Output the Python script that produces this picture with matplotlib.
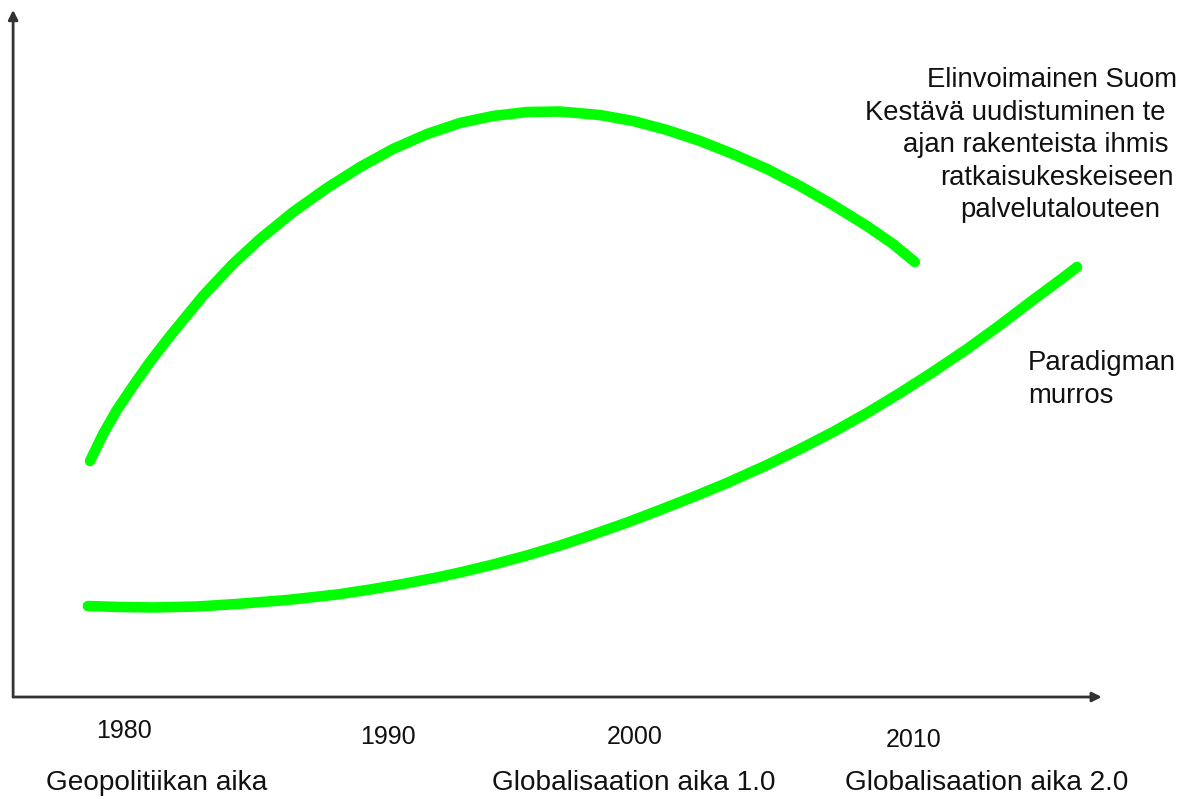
import matplotlib
matplotlib.use("Agg")
import matplotlib.pyplot as plt

plt.rcParams['font.family'] = ['Liberation Sans', 'DejaVu Sans']

# ---- data (years on x, arbitrary "level" on y) ----
upper_years = [1978.39, 1978.89, 1979.42, 1980.04, 1980.69, 1981.46, 1982.72,
               1983.87, 1984.91, 1986.18, 1987.48, 1988.75, 1990.01, 1991.32,
               1992.58, 1993.85, 1995.15, 1996.42, 1997.95, 1999.22, 2000.52,
               2001.79, 2003.05, 2004.36, 2005.62, 2006.89, 2008.19, 2009.19,
               2010.03]
upper_vals = [34.45, 38.39, 41.90, 45.40, 48.91, 52.70, 58.54,
              63.21, 66.86, 70.80, 74.31, 77.37, 80.00, 82.19,
              83.80, 84.82, 85.40, 85.47, 84.96, 84.09, 82.77,
              81.17, 79.27, 77.08, 74.60, 71.82, 68.76, 66.13,
              63.50]

lower_years = [1978.31, 1979.54, 1980.81, 1982.49, 1984.03, 1985.95, 1987.86,
               1989.13, 1990.40, 1991.70, 1992.58, 1993.85, 1995.15, 1996.42,
               1997.68, 1998.99, 2000.25, 2001.52, 2002.82, 2004.36, 2005.62,
               2006.89, 2008.19, 2009.46, 2010.72, 2012.03, 2013.30, 2014.56,
               2015.60, 2016.25]
lower_vals = [13.28, 13.14, 13.07, 13.21, 13.58, 14.16, 14.96,
              15.69, 16.50, 17.45, 18.18, 19.34, 20.66, 22.12,
              23.72, 25.47, 27.30, 29.20, 31.24, 33.87, 36.20,
              38.69, 41.46, 44.38, 47.45, 50.80, 54.31, 57.96,
              60.88, 62.77]

year_labels = ["1980", "1990", "2000", "2010"]
era_labels = ["Geopolitiikan aika", "Globalisaation aika 1.0", "Globalisaation aika 2.0"]
# visible (edge-clipped in the original) annotation lines
upper_note_lines = ["Elinvoimainen Suom", "Kestävä uudistuminen te",
                    "ajan rakenteista ihmis", "ratkaisukeskeiseen",
                    "palvelutalouteen"]
lower_note_lines = ["Paradigman", "murros"]

# ---- layout ----
year_label_x = [1979.7, 1989.8, 1999.3, 2010.0]
year_label_y = [-5.99, -6.9, -6.9, -7.3]
era_label_x = [1976.7, 1993.8, 2007.35]
era_label_y = -13.58
upper_note_x = [2010.49, 2008.12, 2009.57, 2010.99, 2011.76]
upper_note_y = [89.05, 84.23, 79.56, 74.74, 70.07]
lower_note_x = [2014.37, 2014.37]
lower_note_y = [47.74, 42.92]

fig = plt.figure(figsize=(11.79, 7.99), dpi=100)
ax = fig.add_axes([0, 0, 1, 1])
ax.set_xlim(1974.937, 2020.161)
ax.set_ylim(-14.89, 101.75)
ax.axis('off')

green = '#00ff00'
for xs, ys in ((upper_years, upper_vals), (lower_years, lower_vals)):
    ax.plot(xs, ys, color=green, lw=7.6, solid_capstyle='round',
            solid_joinstyle='round')

# axes with arrows
x0, y0 = 1975.44, 0.0
arrow_kw = dict(arrowstyle='-|>', color='#333333', lw=2.0,
                mutation_scale=14, shrinkA=0, shrinkB=0)
ax.annotate('', xy=(x0, 100.3), xytext=(x0, y0), arrowprops=arrow_kw)
ax.annotate('', xy=(2017.2, y0), xytext=(x0, y0), arrowprops=arrow_kw)

txt_color = '#111111'
fs_year = 18
fs_era = 20.2
fs_note = 19.8
for lab, xx, yy in zip(year_labels, year_label_x, year_label_y):
    ax.text(xx, yy, lab, ha='center', va='baseline', fontsize=fs_year, color=txt_color)

for lab, xx in zip(era_labels, era_label_x):
    ax.text(xx, era_label_y, lab, ha='left', va='baseline', fontsize=fs_era, color=txt_color)

for lab, xx, yy in zip(upper_note_lines, upper_note_x, upper_note_y):
    ax.text(xx, yy, lab, ha='left', va='baseline', fontsize=fs_note, color=txt_color)
for lab, xx, yy in zip(lower_note_lines, lower_note_x, lower_note_y):
    ax.text(xx, yy, lab, ha='left', va='baseline', fontsize=fs_note, color=txt_color)

fig.savefig('out.png', dpi=100)
